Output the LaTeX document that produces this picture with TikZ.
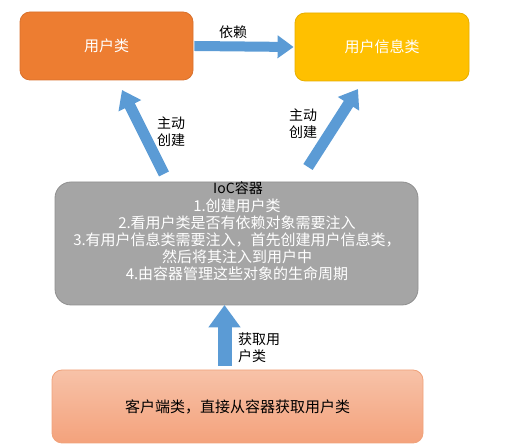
\documentclass[tikz,border=0pt]{standalone}
\usepackage{fontspec}
\setmainfont{Noto Sans CJK SC}
\usetikzlibrary{arrows.meta}
\definecolor{orangeA}{HTML}{ED7D31}
\definecolor{orangeB}{HTML}{D9712C}
\definecolor{goldA}{HTML}{FFC000}
\definecolor{goldB}{HTML}{E6AE00}
\definecolor{grayA}{HTML}{A5A5A5}
\definecolor{grayB}{HTML}{8F8F8F}
\definecolor{blueA}{HTML}{5B9BD5}
\definecolor{salmonT}{HTML}{F7C2A8}
\definecolor{salmonB}{HTML}{F4A27C}
\definecolor{salmonE}{HTML}{F0A27A}
\tikzset{
  x=1pt,y=1pt,
  box/.style={rounded corners=10pt, line width=0.8pt, minimum width=#1, inner sep=0pt, align=center},
  bigarrow/.style={draw=blueA, line width=#1, -{Triangle[width=2.2*#1, length=1.6*#1]}, shorten <=0pt},
  lbl/.style={font=\fontsize{14}{17}\selectfont, align=left, inner sep=0pt, anchor=west},
}
\begin{document}
\begin{tikzpicture}
\useasboundingbox (0,0) rectangle (509,444);
% top boxes
\node[box=173pt, minimum height=68pt, fill=orangeA, draw=orangeB, text=white, font=\fontsize{15}{17}\selectfont] (user) at (106.5,398) {用户类};
\node[box=174pt, minimum height=68pt, fill=goldA, draw=goldB, text=white, font=\fontsize{15}{17}\selectfont] (info) at (382,397) {用户信息类};
% IoC container
\node[box=363pt, minimum height=123pt, fill=grayA, draw=grayB, rounded corners=16pt] (ioc) at (236.5,200.5) {};
\node[font=\fontsize{14}{16}\selectfont, inner sep=0pt] (ioct) at (238,256) {IoC容器};
\node[font=\fontsize{15}{17}\selectfont, text=white, align=center, inner sep=0pt, anchor=north] (iocl) at (237,245) {1.创建用户类\\2.看用户类是否有依赖对象需要注入\\3.有用户信息类需要注入，首先创建用户信息类，\\然后将其注入到用户中\\4.由容器管理这些对象的生命周期};
% client box
\node[box=371pt, minimum height=73pt, top color=salmonT, bottom color=salmonB, draw=salmonE, font=\fontsize{15}{17}\selectfont] (client) at (237.5,37.5) {客户端类，直接从容器获取用户类};
% arrow coordinates
\coordinate (d1) at ([xshift=1pt]user.east);
\coordinate (d2) at ([xshift=-1pt]info.west);
\coordinate (l1) at (164,270);
\coordinate (l2) at (122,354);
\coordinate (r1) at (308,277);
\coordinate (r2) at (358,355);
\coordinate (b1) at (224.5,78);
\coordinate (b2) at (224.5,139);
\draw[bigarrow=10pt] (d1) -- (d2);
\draw[bigarrow=11pt] (l1) -- (l2);
\draw[bigarrow=11pt] (r1) -- (r2);
\draw[bigarrow=14pt] (b1) -- (b2);
% labels
\node[lbl] (ldep) at (219,412) {依赖};
\node[lbl] (lleft) at (157,312.5) {主动\\创建};
\node[lbl] (lright) at (289,320) {主动\\创建};
\node[lbl] (lget) at (238,96.5) {获取用\\户类};
\end{tikzpicture}
\end{document}
